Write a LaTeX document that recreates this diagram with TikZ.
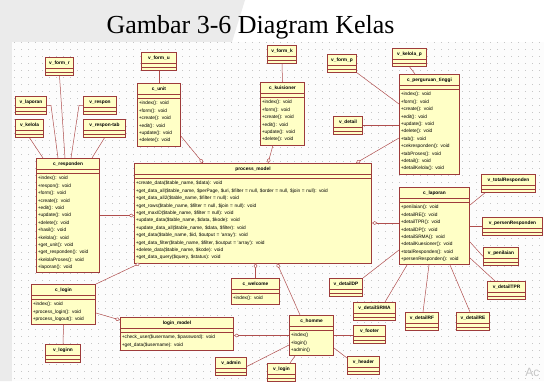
\documentclass[tikz,border=0pt]{standalone}
\usepackage{fontspec}
\setmainfont{Liberation Serif}
\newfontfamily\umlfont{Liberation Sans}
\usetikzlibrary{shapes.multipart, arrows.meta, positioning}
\definecolor{boxfill}{HTML}{FFFFC6}
\definecolor{boxline}{HTML}{9E3B3B}
\definecolor{wire}{HTML}{B04E4E}
\definecolor{slidegray}{HTML}{EBEBEB}
\tikzstyle{umlclass}=[draw=boxline, fill=boxfill, line width=0.6pt, rectangle split, rectangle split parts=3, inner xsep=1.5pt, inner ysep=1.5pt, align=left, anchor=north west, font=\umlfont\fontsize{4.8}{7.4}\selectfont]
\tikzstyle{viewbox}=[umlclass, rectangle split empty part height=1.5pt]
\tikzstyle{link}=[draw=wire, line width=0.5pt]
\tikzstyle{agg}=[link, -{Diamond[fill=white, length=5.5pt, width=3.6pt]}]
\tikzstyle{gridline}=[gray!45, line width=0.6pt, dash pattern=on 0.6pt off 6.4pt]
\newcommand{\cname}[1]{\makebox[\hsize]{\strut\bfseries #1}}

\begin{document}
\begin{tikzpicture}[x=1pt, y=-1pt]
    \useasboundingbox (0,0) rectangle (544,381);
    % slide background and the drawing sheet
    \fill[white] (0,0) rectangle (544,381);
    \fill[slidegray] (0,0) -- (245,0) -- (232,42) -- (12,42) -- (12,381) -- (0,381) -- cycle;
    \fill[white!98!gray] (12,42) rectangle (544,381);
    \foreach \x in {14,21,...,544}
        \draw[gridline] (\x,42) -- (\x,381);

    \node (title)[anchor=base west, font=\fontsize{26}{30}\selectfont] at (103,33) {Gambar 3-6 Diagram Kelas};

    % responden
    \node (v_form_r)[viewbox, text width=25.4pt] at (45,57) {\cname{v\_form\_r} \nodepart{second} \nodepart{third}};
    \node (v_laporan)[viewbox, text width=28.4pt] at (15,96) {\cname{v\_laporan} \nodepart{second} \nodepart{third}};
    \node (v_kelola)[viewbox, text width=25.4pt] at (15,119) {\cname{v\_kelola} \nodepart{second} \nodepart{third}};
    \node (v_respon)[viewbox, text width=30.4pt] at (83,96) {\cname{v\_respon} \nodepart{second} \nodepart{third}};
    \node (v_respon_tab)[viewbox, text width=39.4pt] at (83,119) {\cname{v\_respon-tab} \nodepart{second} \nodepart{third}};
    \node (c_responden)[umlclass, text width=60.4pt] at (36,158) {\cname{c\_responden} \nodepart{second} \nodepart{third}
        \strut+index(): void\\+respon(): void\\+form(): void\\+create(): void\\+edit(): void\\+update(): void\\+delete(): void\\
        +hasil(): void\\+kelola(): void\\+get\_unit(): void\\+get\_responden(): void\\+kelolaProses(): void\\+laporan(): void\strut};

    % unit, kuisioner
    \node (v_form_u)[viewbox, text width=32.4pt] at (141,52) {\cname{v\_form\_u} \nodepart{second} \nodepart{third}};
    \node (c_unit)[umlclass, text width=40.4pt] at (137,83) {\cname{c\_unit} \nodepart{second} \nodepart{third}
        \strut+index(): void\\+form(): void\\+create(): void\\+edit(): void\\+update(): void\\+delete(): void\strut};
    \node (v_form_k)[viewbox, text width=26.4pt] at (267,45) {\cname{v\_form\_k} \nodepart{second} \nodepart{third}};
    \node (c_kuisioner)[umlclass, text width=41.4pt] at (260,82) {\cname{c\_kuisioner} \nodepart{second} \nodepart{third}
        \strut+index(): void\\+form(): void\\+create(): void\\+edit(): void\\+update(): void\\+delete(): void\strut};

    % perguruan tinggi
    \node (v_form_p)[viewbox, text width=26.4pt] at (327,54) {\cname{v\_form\_p} \nodepart{second} \nodepart{third}};
    \node (v_detail)[viewbox, text width=26.4pt] at (333,116) {\cname{v\_detail} \nodepart{second} \nodepart{third}};
    \node (v_kelola_p)[viewbox, text width=31.4pt] at (392,48) {\cname{v\_kelola\_p} \nodepart{second} \nodepart{third}};
    \node (c_perguruan_tinggi)[umlclass, text width=57.4pt] at (399,74) {\cname{c\_perguruan\_tinggi} \nodepart{second} \nodepart{third}
        \strut+index(): void\\+form(): void\\+create(): void\\+edit(): void\\+update(): void\\+delete(): void\\+tab(): void\\
        +cekresponden(): void\\+tabProses(): void\\+detail(): void\\+detailKelola(): void\strut};

    % model
    \node (process_model)[umlclass, text width=234.4pt] at (134,163) {\cname{process\_model} \nodepart{second} \nodepart{third}
        \strut+create\_data(\$table\_name, \$data): void\\
        +get\_data\_all(\$table\_name, \$perPage, \$uri, \$filter = null, \$order = null, \$join = null): void\\
        +get\_data\_all2(\$table\_name, \$filter = null): void\\
        +get\_rows(\$table\_name, \$filter = null, \$join = null): void\\
        +get\_maxID(\$table\_name, \$filter = null): void\\
        +update\_data(\$table\_name, \$data, \$kode): void\\
        +update\_data\_all(\$table\_name, \$data, \$filter): void\\
        +get\_data(\$table\_name, \$id, \$output = 'array'): void\\
        +get\_data\_filter(\$table\_name, \$filter, \$output = 'array'): void\\
        +delete\_data(\$table\_name, \$kode): void\\
        +get\_data\_query(\$query, \$status): void\strut};

    % laporan
    \node (c_laporan)[umlclass, text width=67.4pt] at (399,187) {\cname{c\_laporan} \nodepart{second} \nodepart{third}
        \strut+penilaian(): void\\+detailRE(): void\\+detailTPR(): void\\+detailDP(): void\\+detailSRMA(): void\\
        +detailKuesioner(): void\\+totalResponden(): void\\+persenResponden(): void\strut};
    \node (v_totalResponden)[viewbox, text width=51.4pt] at (481,174) {\cname{v\_totalResponden} \nodepart{second} \nodepart{third}};
    \node (v_persenResponden)[viewbox, text width=57.4pt] at (482,217) {\cname{v\_persenResponden} \nodepart{second} \nodepart{third}};
    \node (v_penilaian)[viewbox, text width=32.4pt] at (483,247) {\cname{v\_penilaian} \nodepart{second} \nodepart{third}};
    \node (v_detailTPR)[viewbox, text width=35.4pt] at (487,281) {\cname{v\_detailTPR} \nodepart{second} \nodepart{third}};
    \node (v_detailDP)[viewbox, text width=30.4pt] at (329,278) {\cname{v\_detailDP} \nodepart{second} \nodepart{third}};
    \node (v_detailSRMA)[viewbox, text width=39.4pt] at (353,302) {\cname{v\_detailSRMA} \nodepart{second} \nodepart{third}};
    \node (v_detailRF)[viewbox, text width=30.4pt] at (405,312) {\cname{v\_detailRF} \nodepart{second} \nodepart{third}};
    \node (v_detailRE)[viewbox, text width=30.4pt] at (456,312) {\cname{v\_detailRE} \nodepart{second} \nodepart{third}};

    % welcome, homme, login
    \node (c_welcome)[umlclass, text width=45.4pt] at (231,278) {\cname{c\_welcome} \nodepart{second} \nodepart{third}
        \strut+index(): void\strut};
    \node (c_homme)[umlclass, text width=41.4pt] at (289,315) {\cname{c\_homme} \nodepart{second} \nodepart{third}
        \strut+index()\\+login()\\+admin()\strut};
    \node (login_model)[umlclass, text width=110.4pt] at (120,317) {\cname{login\_model} \nodepart{second} \nodepart{third}
        \strut+check\_user(\$username, \$password): void\\+get\_data(\$username): void\strut};
    \node (c_login)[umlclass, text width=61.4pt] at (31,284) {\cname{c\_login} \nodepart{second} \nodepart{third}
        \strut+index(): void\\+process\_login(): void\\+process\_logout(): void\strut};
    \node (v_loginn)[viewbox, text width=32.4pt] at (45,344) {\cname{v\_loginn} \nodepart{second} \nodepart{third}};
    \node (v_admin)[viewbox, text width=28.4pt] at (215,357) {\cname{v\_admin} \nodepart{second} \nodepart{third}};
    \node (v_login)[viewbox, text width=25.4pt] at (267,363) {\cname{v\_login} \nodepart{second} \nodepart{third}};
    \node (v_footer)[viewbox, text width=29.4pt] at (353,325) {\cname{v\_footer} \nodepart{second} \nodepart{third}};
    \node (v_header)[viewbox, text width=29.4pt] at (347,356) {\cname{v\_header} \nodepart{second} \nodepart{third}};

    \node (wm)[anchor=base east, text=gray!45, font=\umlfont\fontsize{12}{12}\selectfont] at (543,376) {Ac};

    \draw[link] (v_kelola.south) -- ([xshift=7pt]c_responden.north west);
    \draw[link] (v_laporan.east) -- ++(4,0) -- ([xshift=22pt]c_responden.north west);
    \draw[link] (v_form_r.south) -- ([xshift=29pt]c_responden.north west);
    \draw[link] (v_respon.west) -- ++(-4,0) -- ([xshift=35pt]c_responden.north west);
    \draw[link] (v_respon_tab.south) -- ([xshift=56pt]c_responden.north west);
    \draw[agg] (c_responden.east) -- (c_responden.east -| process_model.west);

    \draw[link] (v_form_u.south) -- (c_unit.north);
    \draw[agg] ([yshift=10pt]c_unit.south east) -- ([xshift=69pt]process_model.north west);
    \draw[link] (v_form_k.south) -- (c_kuisioner.north);
    \draw[agg] ([xshift=13pt]c_kuisioner.south west) -- ([xshift=134pt]process_model.north west);

    \draw[link] (v_form_p.south east) -- ([yshift=-30pt]c_perguruan_tinggi.north west);
    \draw[link] (v_detail.east) -- (v_detail.east -| c_perguruan_tinggi.west);
    \draw[agg] ([yshift=-64pt]c_perguruan_tinggi.north west) -- ([xshift=222pt]process_model.north west);
    \draw[link] (v_kelola_p.south) -- ([xshift=16pt]c_perguruan_tinggi.north west);

    \draw[agg] ([yshift=3pt]c_laporan.west) -- ([yshift=3pt]c_laporan.west -| process_model.east);
    \draw[link] ([yshift=-18pt]c_laporan.north east) -- ([xshift=4pt]v_totalResponden.south west);
    \draw[link] (c_laporan.east) -- (c_laporan.east -| v_persenResponden.west);
    \draw[link] ([yshift=-55pt]c_laporan.north east) -- (v_penilaian.west);
    \draw[link] ([yshift=-71pt]c_laporan.north east) -- ([xshift=8pt]v_detailTPR.north west);
    \draw[link] ([yshift=-63pt]c_laporan.north west) -- (v_detailDP.north east);
    \draw[link] ([xshift=8pt]c_laporan.south west) -- ([xshift=32pt]v_detailSRMA.north west);
    \draw[link] ([xshift=30pt]c_laporan.south west) -- ([xshift=18pt]v_detailRF.north west);
    \draw[link] ([xshift=51pt]c_laporan.south west) -- ([xshift=14pt]v_detailRE.north west);

    \draw[agg] (c_welcome.north) -- (c_welcome.north |- process_model.south);
    \draw[agg] ([xshift=11pt]c_homme.north west) -- ([xshift=143pt]process_model.south west);
    \draw[agg] (c_login.north east) -- ([xshift=6pt]process_model.south west);
    \draw[agg] ([yshift=-29pt]c_login.north east) -- ([yshift=-3pt]login_model.north west);
    \draw[link] (c_login.south) -- (v_loginn.north);
    \draw[agg] (c_homme.west) -- (c_homme.west -| login_model.east);
    \draw[link] ([yshift=-30pt]c_homme.north west) -- (v_admin.east);
    \draw[link] ([xshift=6pt]c_homme.south west) -- ([xshift=23pt]v_login.north west);
    \draw[link] (c_homme.east) -- (c_homme.east -| v_footer.west);
    \draw[link] ([yshift=-33pt]c_homme.north east) -- ([yshift=-2pt]v_header.north west);
\end{tikzpicture}
\end{document}
